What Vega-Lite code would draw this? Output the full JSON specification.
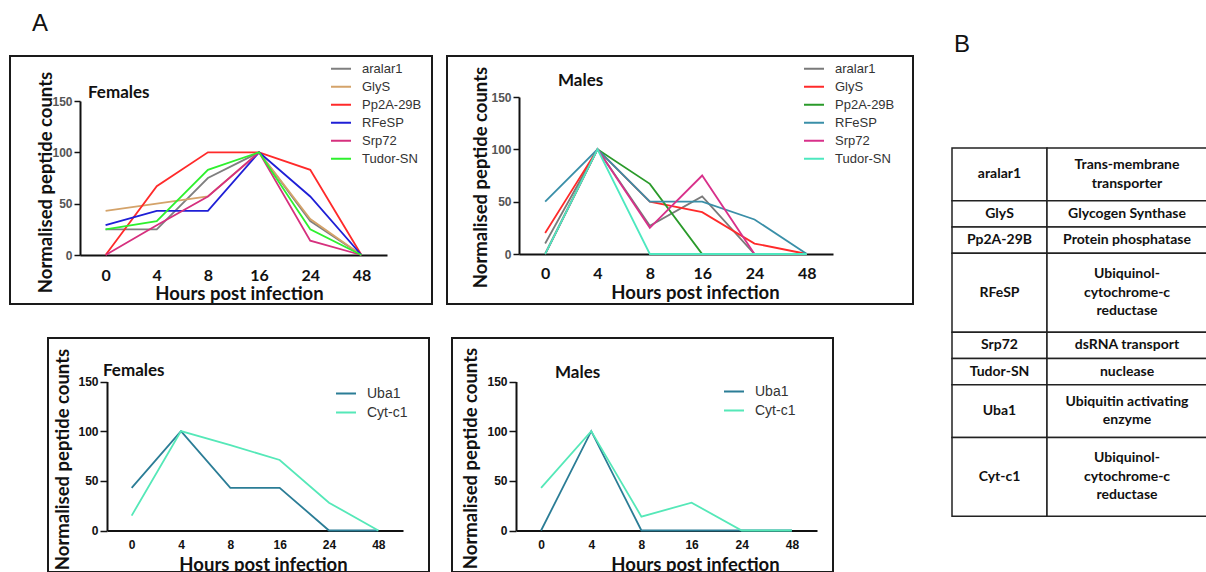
{
  "$schema": "https://vega.github.io/schema/vega-lite/v6.json",
  "padding": {"left": 9, "top": 12, "right": 0, "bottom": 0},
  "background": "white",
  "config": {
    "font": "Liberation Sans",
    "view": {"stroke": "#1a1a1a", "strokeWidth": 2},
    "axis": {"grid": false, "domainColor": "#111", "domainWidth": 2, "tickColor": "#111", "tickWidth": 1.5, "titleFont": "Lato", "titleFontWeight": "bold", "titleFontSize": 18.5, "titleColor": "#111", "labelColor": "#111", "labelFont": "Liberation Sans", "labelFontWeight": "bold", "labelOverlap": false, "zindex": 1},
    "legend": {"symbolType": "stroke", "symbolStrokeWidth": 2, "symbolSize": 400, "labelFont": "Liberation Sans", "labelFontSize": 13, "labelColor": "#333", "labelOffset": 10, "rowPadding": 0},
    "title": {"font": "Lato", "fontWeight": "bold", "fontSize": 17, "color": "#111", "baseline": "alphabetic", "frame": "group", "anchor": "start"}
  },
  "datasets": {
    "femalesTop": [
      {"gene": "aralar1", "hour": "0", "value": 25}, {"gene": "aralar1", "hour": "4", "value": 25}, {"gene": "aralar1", "hour": "8", "value": 75}, {"gene": "aralar1", "hour": "16", "value": 100}, {"gene": "aralar1", "hour": "24", "value": 33}, {"gene": "aralar1", "hour": "48", "value": 0},
      {"gene": "GlyS", "hour": "0", "value": 43}, {"gene": "GlyS", "hour": "4", "value": 50}, {"gene": "GlyS", "hour": "8", "value": 57}, {"gene": "GlyS", "hour": "16", "value": 100}, {"gene": "GlyS", "hour": "24", "value": 35}, {"gene": "GlyS", "hour": "48", "value": 0},
      {"gene": "Pp2A-29B", "hour": "0", "value": 0}, {"gene": "Pp2A-29B", "hour": "4", "value": 67}, {"gene": "Pp2A-29B", "hour": "8", "value": 100}, {"gene": "Pp2A-29B", "hour": "16", "value": 100}, {"gene": "Pp2A-29B", "hour": "24", "value": 83}, {"gene": "Pp2A-29B", "hour": "48", "value": 0},
      {"gene": "RFeSP", "hour": "0", "value": 29}, {"gene": "RFeSP", "hour": "4", "value": 43}, {"gene": "RFeSP", "hour": "8", "value": 43}, {"gene": "RFeSP", "hour": "16", "value": 100}, {"gene": "RFeSP", "hour": "24", "value": 57}, {"gene": "RFeSP", "hour": "48", "value": 0},
      {"gene": "Srp72", "hour": "0", "value": 0}, {"gene": "Srp72", "hour": "4", "value": 29}, {"gene": "Srp72", "hour": "8", "value": 57}, {"gene": "Srp72", "hour": "16", "value": 100}, {"gene": "Srp72", "hour": "24", "value": 14}, {"gene": "Srp72", "hour": "48", "value": 0},
      {"gene": "Tudor-SN", "hour": "0", "value": 25}, {"gene": "Tudor-SN", "hour": "4", "value": 33}, {"gene": "Tudor-SN", "hour": "8", "value": 83}, {"gene": "Tudor-SN", "hour": "16", "value": 100}, {"gene": "Tudor-SN", "hour": "24", "value": 25}, {"gene": "Tudor-SN", "hour": "48", "value": 0}
    ],
    "malesTop": [
      {"gene": "aralar1", "hour": "0", "value": 10}, {"gene": "aralar1", "hour": "4", "value": 100}, {"gene": "aralar1", "hour": "8", "value": 27}, {"gene": "aralar1", "hour": "16", "value": 55}, {"gene": "aralar1", "hour": "24", "value": 0}, {"gene": "aralar1", "hour": "48", "value": 0},
      {"gene": "GlyS", "hour": "0", "value": 20}, {"gene": "GlyS", "hour": "4", "value": 100}, {"gene": "GlyS", "hour": "8", "value": 50}, {"gene": "GlyS", "hour": "16", "value": 40}, {"gene": "GlyS", "hour": "24", "value": 10}, {"gene": "GlyS", "hour": "48", "value": 0},
      {"gene": "Pp2A-29B", "hour": "0", "value": 0}, {"gene": "Pp2A-29B", "hour": "4", "value": 100}, {"gene": "Pp2A-29B", "hour": "8", "value": 67}, {"gene": "Pp2A-29B", "hour": "16", "value": 0}, {"gene": "Pp2A-29B", "hour": "24", "value": 0}, {"gene": "Pp2A-29B", "hour": "48", "value": 0},
      {"gene": "RFeSP", "hour": "0", "value": 50}, {"gene": "RFeSP", "hour": "4", "value": 100}, {"gene": "RFeSP", "hour": "8", "value": 50}, {"gene": "RFeSP", "hour": "16", "value": 50}, {"gene": "RFeSP", "hour": "24", "value": 33}, {"gene": "RFeSP", "hour": "48", "value": 0},
      {"gene": "Srp72", "hour": "0", "value": 0}, {"gene": "Srp72", "hour": "4", "value": 100}, {"gene": "Srp72", "hour": "8", "value": 25}, {"gene": "Srp72", "hour": "16", "value": 75}, {"gene": "Srp72", "hour": "24", "value": 0}, {"gene": "Srp72", "hour": "48", "value": 0},
      {"gene": "Tudor-SN", "hour": "0", "value": 0}, {"gene": "Tudor-SN", "hour": "4", "value": 100}, {"gene": "Tudor-SN", "hour": "8", "value": 0}, {"gene": "Tudor-SN", "hour": "16", "value": 0}, {"gene": "Tudor-SN", "hour": "24", "value": 0}, {"gene": "Tudor-SN", "hour": "48", "value": 0}
    ],
    "femalesBottom": [
      {"gene": "Uba1", "hour": "0", "value": 43}, {"gene": "Uba1", "hour": "4", "value": 100}, {"gene": "Uba1", "hour": "8", "value": 43}, {"gene": "Uba1", "hour": "16", "value": 43}, {"gene": "Uba1", "hour": "24", "value": 0}, {"gene": "Uba1", "hour": "48", "value": 0},
      {"gene": "Cyt-c1", "hour": "0", "value": 15}, {"gene": "Cyt-c1", "hour": "4", "value": 100}, {"gene": "Cyt-c1", "hour": "8", "value": 86}, {"gene": "Cyt-c1", "hour": "16", "value": 71}, {"gene": "Cyt-c1", "hour": "24", "value": 28}, {"gene": "Cyt-c1", "hour": "48", "value": 0}
    ],
    "malesBottom": [
      {"gene": "Uba1", "hour": "0", "value": 0}, {"gene": "Uba1", "hour": "4", "value": 100}, {"gene": "Uba1", "hour": "8", "value": 0}, {"gene": "Uba1", "hour": "16", "value": 0}, {"gene": "Uba1", "hour": "24", "value": 0}, {"gene": "Uba1", "hour": "48", "value": 0},
      {"gene": "Cyt-c1", "hour": "0", "value": 43}, {"gene": "Cyt-c1", "hour": "4", "value": 100}, {"gene": "Cyt-c1", "hour": "8", "value": 14}, {"gene": "Cyt-c1", "hour": "16", "value": 28}, {"gene": "Cyt-c1", "hour": "24", "value": 0}, {"gene": "Cyt-c1", "hour": "48", "value": 0}
    ],
    "table": [
      {"n": 1, "gene": "aralar1", "desc": "Trans-membrane\ntransporter", "lines": 2},
      {"n": 2, "gene": "GlyS", "desc": "Glycogen Synthase", "lines": 1},
      {"n": 3, "gene": "Pp2A-29B", "desc": "Protein phosphatase", "lines": 1},
      {"n": 4, "gene": "RFeSP", "desc": "Ubiquinol-\ncytochrome-c\nreductase", "lines": 3},
      {"n": 5, "gene": "Srp72", "desc": "dsRNA transport", "lines": 1},
      {"n": 6, "gene": "Tudor-SN", "desc": "nuclease", "lines": 1},
      {"n": 7, "gene": "Uba1", "desc": "Ubiquitin activating\nenzyme", "lines": 2},
      {"n": 8, "gene": "Cyt-c1", "desc": "Ubiquinol-\ncytochrome-c\nreductase", "lines": 3}
    ]
  },
  "spacing": 942,
  "bounds": "flush",
  "resolve": {"scale": {"color": "independent"}, "legend": {"color": "independent"}},
  "hconcat": [
    {
      "title": {"text": "A", "anchor": "start", "dx": 22, "offset": 19, "font": "Liberation Sans", "fontWeight": "normal", "fontSize": 24, "color": "#111"},
      "spacing": 282,
      "bounds": "flush",
      "resolve": {"scale": {"color": "independent"}, "legend": {"color": "independent"}},
      "vconcat": [
        {
          "spacing": 15,
          "bounds": "flush",
          "resolve": {"scale": {"color": "independent"}, "legend": {"color": "independent"}},
          "hconcat": [
            {
              "width": 422, "height": 248,
              "data": {"name": "femalesTop"},
              "title": {"text": "Females", "dx": 78, "offset": -46},
              "mark": {"type": "line", "strokeWidth": 1.8},
              "encoding": {
                "x": {"field": "hour", "type": "ordinal", "sort": ["0", "4", "8", "16", "24", "48"],
                  "scale": {"type": "point", "padding": 0.5, "range": [70, 377]},
                  "axis": {"title": "Hours post infection", "offset": -49, "labelAngle": 0, "ticks": false, "tickSize": 0, "labelFont": "Lato", "labelFontSize": 16, "labelBaseline": "middle", "labelPadding": 20, "titleX": 229, "titleY": 38.5, "titleBaseline": "middle"}},
                "y": {"field": "value", "type": "quantitative",
                  "scale": {"domain": [0, 150], "range": [199, 45], "nice": false},
                  "axis": {"title": "Normalised peptide counts", "values": [0, 50, 100, 150], "offset": -70, "tickSize": 6, "labelPadding": 2, "labelFontSize": 12, "labelColor": "#555", "titleX": -35, "titleY": 126, "titleBaseline": "middle"}},
                "color": {"field": "gene", "type": "nominal",
                  "scale": {"domain": ["aralar1", "GlyS", "Pp2A-29B", "RFeSP", "Srp72", "Tudor-SN"], "range": ["#7f7f7f", "#d4a36a", "#ff2a2a", "#1f1fd6", "#d6307e", "#2ef02e"]},
                  "legend": {"title": null, "orient": "none", "legendX": 320, "legendY": 4, "clipHeight": 17.3}}
              }
            },
            {
              "width": 466, "height": 248,
              "data": {"name": "malesTop"},
              "title": {"text": "Males", "dx": 111, "offset": -34},
              "mark": {"type": "line", "strokeWidth": 1.8},
              "encoding": {
                "x": {"field": "hour", "type": "ordinal", "sort": ["0", "4", "8", "16", "24", "48"],
                  "scale": {"type": "point", "padding": 0.5, "range": [72, 386]},
                  "axis": {"title": "Hours post infection", "offset": -50, "labelAngle": 0, "ticks": false, "tickSize": 0, "labelFont": "Lato", "labelFontSize": 16, "labelBaseline": "middle", "labelPadding": 19, "titleX": 248, "titleY": 38.5, "titleBaseline": "middle"}},
                "y": {"field": "value", "type": "quantitative",
                  "scale": {"domain": [0, 150], "range": [198, 41], "nice": false},
                  "axis": {"title": "Normalised peptide counts", "values": [0, 50, 100, 150], "offset": -72, "tickSize": 6, "labelPadding": 2, "labelFontSize": 12, "labelColor": "#555", "titleX": -39, "titleY": 121, "titleBaseline": "middle"}},
                "color": {"field": "gene", "type": "nominal",
                  "scale": {"domain": ["aralar1", "GlyS", "Pp2A-29B", "RFeSP", "Srp72", "Tudor-SN"], "range": ["#7a7a7a", "#ff2a2a", "#2a9a2a", "#3a8fa8", "#d8308a", "#4de8bf"]},
                  "legend": {"title": null, "orient": "none", "legendX": 356, "legendY": 4, "clipHeight": 17.6}}
              }
            }
          ]
        },
        {
          "spacing": 23,
          "bounds": "flush",
          "resolve": {"scale": {"color": "independent"}, "legend": {"color": "independent"}},
          "hconcat": [
            {"width": 15, "height": 234, "view": {"stroke": null}, "data": {"values": []}, "mark": {"type": "point", "opacity": 0}},
            {
              "width": 381, "height": 234,
              "data": {"name": "femalesBottom"},
              "title": {"text": "Females", "dx": 55, "offset": -42},
              "mark": {"type": "line", "strokeWidth": 1.8},
              "encoding": {
                "x": {"field": "hour", "type": "ordinal", "sort": ["0", "4", "8", "16", "24", "48"],
                  "scale": {"type": "point", "padding": 0.5, "range": [59, 355]},
                  "axis": {"title": "Hours post infection", "offset": -41.5, "labelAngle": 0, "ticks": false, "tickSize": 0, "labelFontSize": 12, "labelBaseline": "middle", "labelPadding": 14, "titleX": 215, "titleY": 34, "titleBaseline": "middle"}},
                "y": {"field": "value", "type": "quantitative",
                  "scale": {"domain": [0, 150], "range": [192.5, 43.5], "nice": false},
                  "axis": {"title": "Normalised peptide counts", "values": [0, 50, 100, 150], "offset": -59, "tickSize": 7, "labelPadding": 2, "labelFontSize": 12, "titleX": -45, "titleY": 121, "titleBaseline": "middle"}},
                "color": {"field": "gene", "type": "nominal",
                  "scale": {"domain": ["Uba1", "Cyt-c1"], "range": ["#2b7d96", "#55e8b8"]},
                  "legend": {"title": null, "orient": "none", "legendX": 287, "legendY": 46, "clipHeight": 19, "labelFontSize": 14}}
              }
            },
            {
              "width": 381, "height": 234,
              "data": {"name": "malesBottom"},
              "title": {"text": "Males", "dx": 103, "offset": -44},
              "mark": {"type": "line", "strokeWidth": 1.8},
              "encoding": {
                "x": {"field": "hour", "type": "ordinal", "sort": ["0", "4", "8", "16", "24", "48"],
                  "scale": {"type": "point", "padding": 0.5, "range": [64, 365]},
                  "axis": {"title": "Hours post infection", "offset": -41.5, "labelAngle": 0, "ticks": false, "tickSize": 0, "labelFontSize": 12, "labelBaseline": "middle", "labelPadding": 14, "titleX": 243, "titleY": 34, "titleBaseline": "middle"}},
                "y": {"field": "value", "type": "quantitative",
                  "scale": {"domain": [0, 150], "range": [192.5, 43.5], "nice": false},
                  "axis": {"title": "Normalised peptide counts", "values": [0, 50, 100, 150], "offset": -64, "tickSize": 7, "labelPadding": 2, "labelFontSize": 12, "titleX": -46, "titleY": 120, "titleBaseline": "middle"}},
                "color": {"field": "gene", "type": "nominal",
                  "scale": {"domain": ["Uba1", "Cyt-c1"], "range": ["#2b7d96", "#55e8b8"]},
                  "legend": {"title": null, "orient": "none", "legendX": 271, "legendY": 44, "clipHeight": 19, "labelFontSize": 14}}
              }
            }
          ]
        }
      ]
    },
    {
      "spacing": 0,
      "bounds": "flush",
      "hconcat": [
        {
          "width": 95, "height": 248,
          "view": {"stroke": null},
          "title": {"text": "B", "anchor": "start", "dx": 2, "offset": -1, "font": "Liberation Sans", "fontWeight": "normal", "fontSize": 24, "color": "#111"},
          "data": {"name": "table"},
          "transform": [{"stack": "lines", "groupby": [], "sort": [{"field": "n", "order": "ascending"}], "as": ["y0", "y1"]}],
          "layer": [
            {"mark": {"type": "rect", "fill": "white", "stroke": "#222", "strokeWidth": 1.5},
             "encoding": {"y": {"field": "y0", "type": "quantitative", "scale": {"domain": [-3.5, 16.08], "range": [0, 515], "nice": false, "zero": false}, "axis": null}, "y2": {"field": "y1"}}},
            {"transform": [{"fold": ["y0", "y1"], "as": ["edge", "pos"]}],
             "mark": {"type": "text", "font": "Lato", "fontWeight": "bold", "fontSize": 14, "baseline": "middle", "color": "#111"},
             "encoding": {"y": {"field": "pos", "aggregate": "mean", "type": "quantitative", "scale": {"domain": [-3.5, 16.08], "range": [0, 515], "nice": false, "zero": false}, "axis": null}, "text": {"field": "gene"}, "detail": {"field": "gene"}}}
          ]
        },
        {
          "width": 160, "height": 248,
          "view": {"stroke": null},
          "data": {"name": "table"},
          "transform": [{"stack": "lines", "groupby": [], "sort": [{"field": "n", "order": "ascending"}], "as": ["y0", "y1"]}],
          "layer": [
            {"mark": {"type": "rect", "fill": "white", "stroke": "#222", "strokeWidth": 1.5},
             "encoding": {"y": {"field": "y0", "type": "quantitative", "scale": {"domain": [-3.5, 16.08], "range": [0, 515], "nice": false, "zero": false}, "axis": null}, "y2": {"field": "y1"}}},
            {"transform": [{"filter": "datum.lines == 1"}, {"fold": ["y0", "y1"], "as": ["edge", "pos"]}],
             "mark": {"type": "text", "font": "Lato", "fontWeight": "bold", "fontSize": 14, "lineHeight": 18.5, "lineBreak": "\n", "baseline": "middle", "color": "#111"},
             "encoding": {"y": {"field": "pos", "aggregate": "mean", "type": "quantitative", "scale": {"domain": [-3.5, 16.08], "range": [0, 515], "nice": false, "zero": false}, "axis": null}, "text": {"field": "desc"}, "detail": {"field": "gene"}}},
            {"transform": [{"filter": "datum.lines == 2"}, {"fold": ["y0", "y1"], "as": ["edge", "pos"]}],
             "mark": {"type": "text", "font": "Lato", "fontWeight": "bold", "fontSize": 14, "lineHeight": 18.5, "lineBreak": "\n", "baseline": "middle", "dy": -9.25, "color": "#111"},
             "encoding": {"y": {"field": "pos", "aggregate": "mean", "type": "quantitative", "scale": {"domain": [-3.5, 16.08], "range": [0, 515], "nice": false, "zero": false}, "axis": null}, "text": {"field": "desc"}, "detail": {"field": "gene"}}},
            {"transform": [{"filter": "datum.lines == 3"}, {"fold": ["y0", "y1"], "as": ["edge", "pos"]}],
             "mark": {"type": "text", "font": "Lato", "fontWeight": "bold", "fontSize": 14, "lineHeight": 18.5, "lineBreak": "\n", "baseline": "middle", "dy": -18.5, "color": "#111"},
             "encoding": {"y": {"field": "pos", "aggregate": "mean", "type": "quantitative", "scale": {"domain": [-3.5, 16.08], "range": [0, 515], "nice": false, "zero": false}, "axis": null}, "text": {"field": "desc"}, "detail": {"field": "gene"}}}
          ]
        }
      ]
    }
  ]
}
